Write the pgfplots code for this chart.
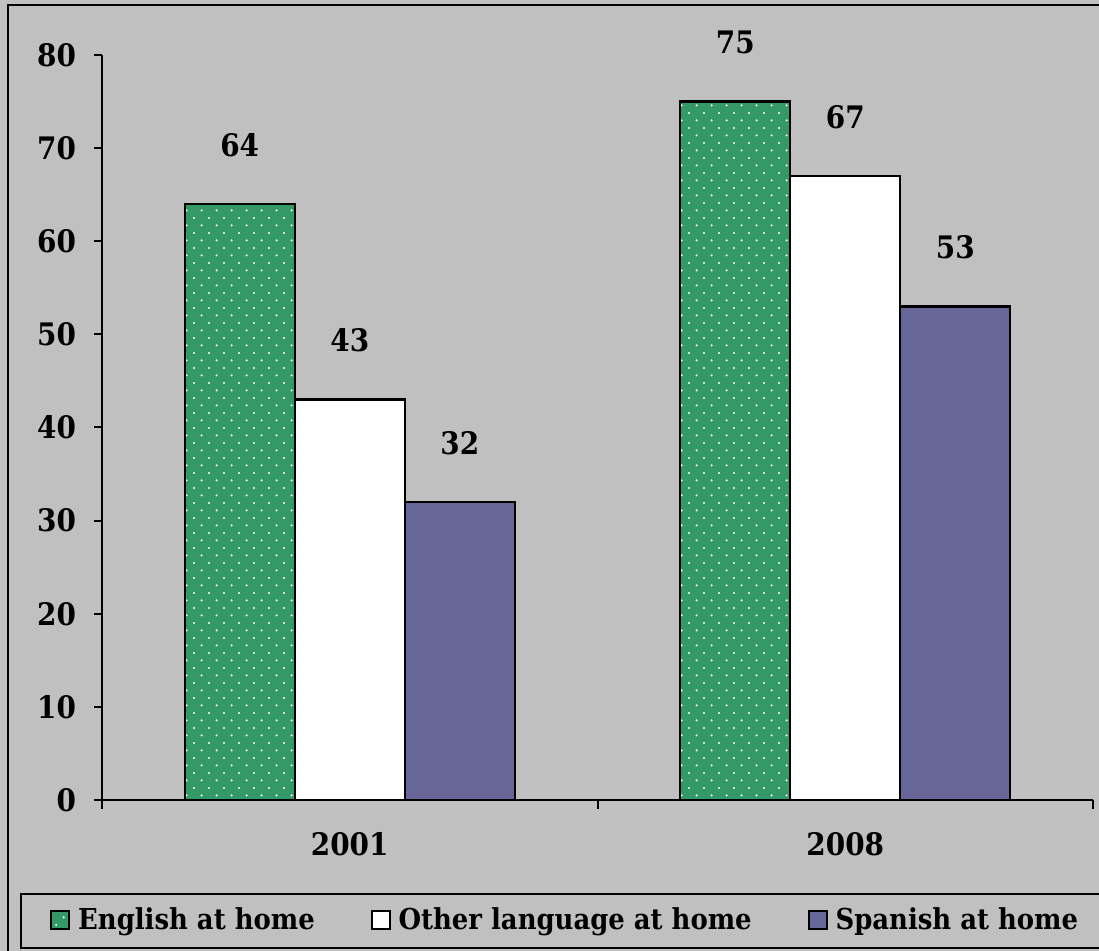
\documentclass[border=0pt]{standalone}
\usepackage{fontspec}
\setmainfont{DejaVu Serif Condensed}
\usepackage{pgfplots}
\pgfplotsset{compat=1.18}
\usetikzlibrary{patterns.meta}

\definecolor{bggray}{HTML}{C0C0C0}
\definecolor{engreen}{HTML}{339966}
\definecolor{spviolet}{HTML}{666699}

% staggered white dots on the English bars
\pgfdeclarepattern{
  name=sdots,
  type=uncolored,
  bottom left={\pgfpoint{0pt}{0pt}},
  top right={\pgfpoint{7.65pt}{7.65pt}},
  tile size={\pgfpoint{7.65pt}{7.65pt}},
  code={
    \pgfpathcircle{\pgfpoint{1.9pt}{1.9pt}}{0.6pt}
    \pgfpathcircle{\pgfpoint{5.75pt}{5.75pt}}{0.6pt}
    \pgfusepath{fill}
  }
}

\newcommand{\chartfont}{\fontsize{15.5}{18}\selectfont\bfseries}
\newcommand{\legfont}{\fontsize{14.4}{17}\selectfont\bfseries}

\begin{document}
\begin{tikzpicture}
  % page and frames (1px = 0.5pt, axis origin at pixel (102,800))
  \useasboundingbox (-51pt,-75.5pt) rectangle (498.5pt,400pt);
  \fill[bggray] (-51pt,-75.5pt) rectangle (498.5pt,400pt);
  \draw[line width=1pt] (-47pt,397.5pt) rectangle (510pt,-85pt);
  \draw[line width=1pt] (-40.5pt,-47pt) rectangle (510pt,-74pt);

  \begin{axis}[
      scale only axis,
      width=495.5pt,
      height=372.5pt,
      xmin=-0.5, xmax=1.5,
      ymin=0, ymax=80,
      ybar=0pt,
      bar width=55pt,
      axis x line=bottom,
      axis y line=left,
      axis line style={-, line width=1pt},
      xtick={0,1},
      xticklabels={2001,2008},
      minor xtick={-0.5,0.5,1.5},
      major x tick style={draw=none},
      minor x tick style={black, line width=1pt},
      minor tick length=4.5pt,
      ytick={0,10,...,80},
      y tick style={black, line width=1pt},
      major tick length=4pt,
      tick align=outside,
      font=\chartfont,
      /pgf/number format/assume math mode=true,
      yticklabel style={font=\chartfont, xshift=-5.5pt},
      xticklabel style={font=\chartfont, yshift=-8.5pt},
      nodes near coords,
      every node near coord/.append style={font=\chartfont, anchor=center, yshift=29.5pt},
      clip=false,
      legend columns=3,
      legend cell align=left,
      legend image code/.code={
        \draw[#1, draw=black, line width=0.9pt] (0pt,-4.5pt) rectangle (9pt,4.5pt);
      },
      legend style={
        at={(-0.0525,-0.1611)}, anchor=west,
        draw=none, fill=none, inner sep=0pt,
        font=\legfont,
        /tikz/every odd column/.append style={column sep=2pt},
        /tikz/every even column/.append style={column sep=26pt},
      },
    ]
    \addplot[fill=engreen, draw=black, line width=1.2pt,
      postaction={pattern=sdots, pattern color=white}]
      coordinates {(0,64) (1,75)};
    \addplot[fill=white, draw=black, line width=1.2pt]
      coordinates {(0,43) (1,67)};
    \addplot[fill=spviolet, draw=black, line width=1.2pt]
      coordinates {(0,32) (1,53)};
    \legend{English at home, Other language at home, Spanish at home}
  \end{axis}
\end{tikzpicture}
\end{document}
